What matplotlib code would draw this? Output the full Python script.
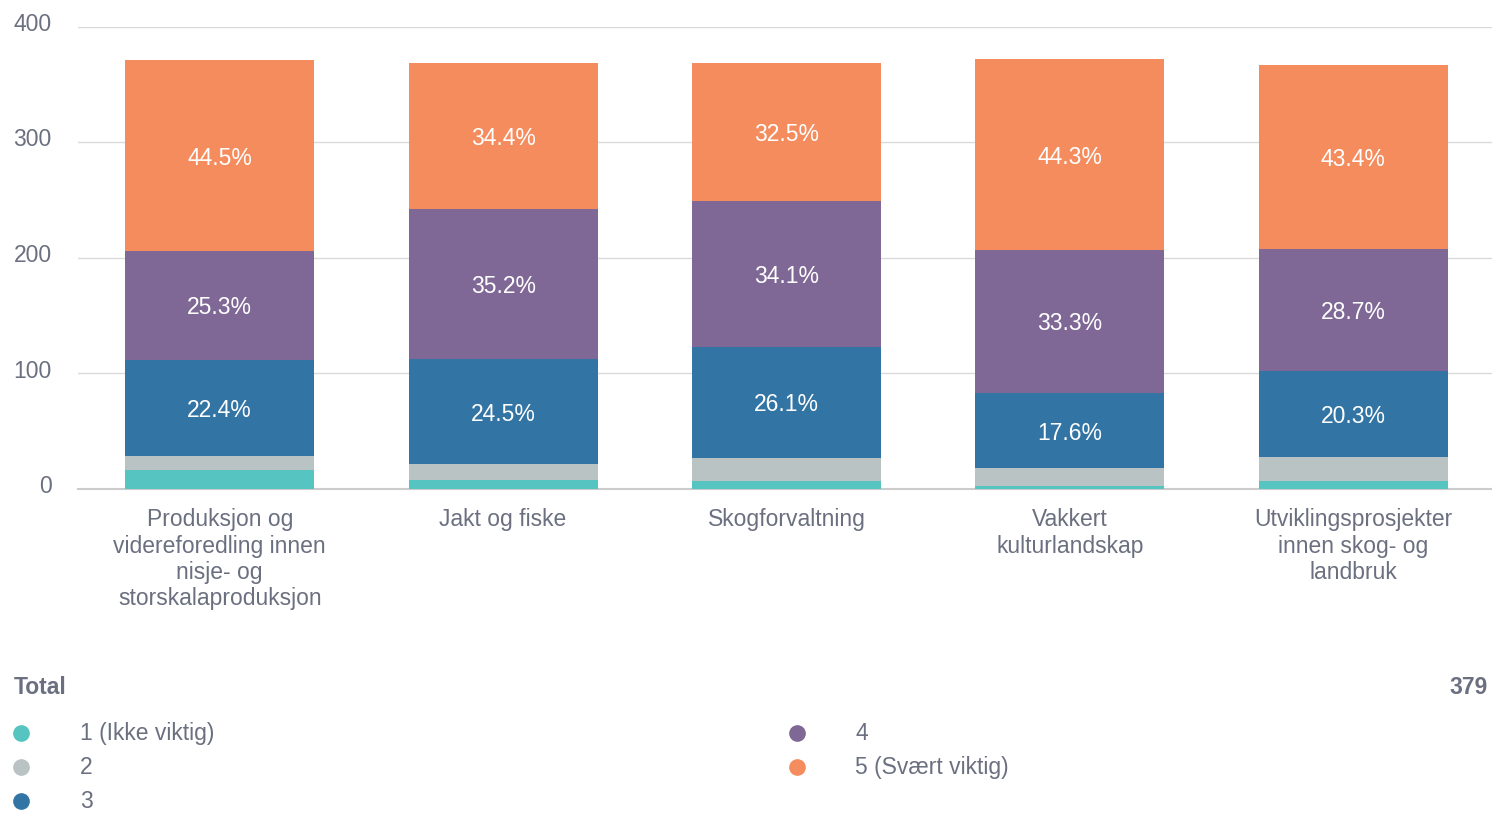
import numpy as np
import matplotlib.pyplot as plt
import matplotlib.transforms as mtransforms
from matplotlib.lines import Line2D

plt.rcParams['font.family'] = ['Liberation Sans', 'DejaVu Sans']

categories = ['Produksjon og\nvidereforedling innen\nnisje- og\nstorskalaproduksjon',
              'Jakt og fiske',
              'Skogforvaltning',
              'Vakkert\nkulturlandskap',
              'Utviklingsprosjekter\ninnen skog- og\nlandbruk']
totals = [371, 369, 369, 372, 367]
levels = ['1 (Ikke viktig)', '2', '3', '4', '5 (Svært viktig)']
# percent per level, per category
pct_1 = [4.4, 2.0, 1.9, 0.8, 2.0]
pct_2 = [3.4, 3.9, 5.4, 4.0, 5.6]
pct_3 = [22.4, 24.5, 26.1, 17.6, 20.3]
pct_4 = [25.3, 35.2, 34.1, 33.3, 28.7]
pct_5 = [44.5, 34.4, 32.5, 44.3, 43.4]
labelled = [False, False, True, True, True]
colors = ['#56c4c0', '#b9c3c4', '#3274a4', '#7f6896', '#f58c5e']
n_total = 379

txt = '#6b7080'

fig = plt.figure(figsize=(14.92, 8.13), dpi=100)
ax = fig.add_axes([78/1492, 1-489/813, 1417/1492, 462/813])

x = np.arange(len(categories))
bottom = np.zeros(len(categories))
for pcts, col, lab in zip([pct_1, pct_2, pct_3, pct_4, pct_5], colors, labelled):
    h = np.array(pcts) / 100 * np.array(totals)
    ax.bar(x, h, bottom=bottom, width=0.667, color=col, zorder=3)
    if lab:
        for xi, b, hh, p in zip(x, bottom, h, pcts):
            ax.text(xi, b + hh/2, f'{p:.1f}%', ha='center', va='center_baseline',
                    color='white', fontsize=16.5, zorder=4)
    bottom += h

ax.set_xlim(-0.5, 4.5)
ax.set_ylim(0, 400)
ax.set_yticks([0, 100, 200, 300, 400])
ax.grid(axis='y', color='#dadada', linewidth=1, zorder=0)
for s in ['top', 'right', 'left']:
    ax.spines[s].set_visible(False)
ax.spines['bottom'].set_color('#cccccc')
ax.spines['bottom'].set_linewidth(1.5)
ax.tick_params(axis='y', length=0, pad=19, labelsize=16.5, labelcolor=txt)
ax.tick_params(axis='x', length=0, pad=14, labelsize=16.5, labelcolor=txt)
ax.set_xticks(x)
ax.set_xticklabels(categories, linespacing=1.17)
shift = mtransforms.ScaledTranslation(0, 5/100, fig.dpi_scale_trans)
for t in ax.get_yticklabels():
    t.set_transform(t.get_transform() + shift)

# legend area
fig.text(14/1492, 1-687/813, 'Total', fontsize=16.5, fontweight='bold', color=txt, va='center')
fig.text(1488/1492, 1-687/813, str(n_total), fontsize=16.5, fontweight='bold', color=txt,
         va='center', ha='right')
pos = [(21, 80, 733), (21, 80, 767), (21, 80, 801), (797, 855, 733), (797, 855, 767)]
for (mx, tx, y), lab, col in zip(pos, levels, colors):
    fig.add_artist(Line2D([mx/1492], [1-y/813], marker='o', markersize=11,
                          color=col, linestyle='none', transform=fig.transFigure))
    fig.text(tx/1492, 1-y/813, lab, fontsize=16.5, color=txt, va='center')

fig.savefig('out.png', dpi=100)
